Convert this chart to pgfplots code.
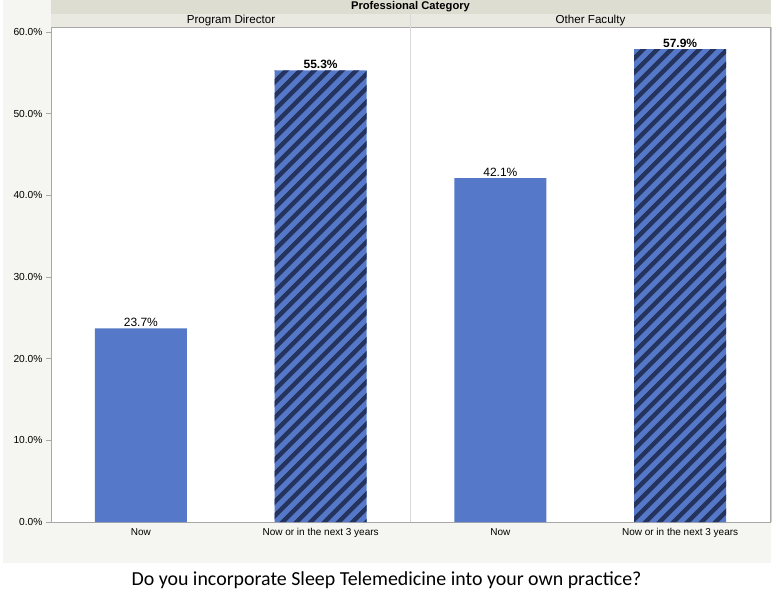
\documentclass[border=0pt]{standalone}
\usepackage{pgfplots}
\pgfplotsset{compat=1.18}
\usetikzlibrary{patterns.meta}
\usepackage{fontspec}
\setmainfont{Liberation Sans}
\newfontfamily\carlito{Carlito}
\definecolor{bgGray}{HTML}{F5F5F1}
\definecolor{bandA}{HTML}{DDDDD1}
\definecolor{bandB}{HTML}{E9E9E1}
\definecolor{barBlue}{HTML}{5678C8}
\definecolor{barNavy}{HTML}{25345F}
\definecolor{axGray}{HTML}{A8A8A8}
\begin{document}
\begin{tikzpicture}
\useasboundingbox (0,0) rectangle (773pt,598pt);
\fill[white] (0,0) rectangle (773pt,598pt);
\fill[bgGray] (3pt,35pt) rectangle (771pt,598pt);
\fill[bandA] (51pt,584pt) rectangle (771pt,598pt);
\fill[bandB] (51pt,571pt) rectangle (771pt,584pt);
\node[font=\fontsize{11.2}{12}\selectfont\bfseries] at (410.5pt,591pt) {Professional Category};
\node[font=\fontsize{11.6}{12}\selectfont] at (231pt,577.5pt) {Program Director};
\node[font=\fontsize{11.6}{12}\selectfont] at (590.5pt,577.5pt) {Other Faculty};
\begin{axis}[
  at={(51pt,76pt)}, anchor=south west,
  scale only axis, width=719pt, height=495pt,
  xmin=-0.5, xmax=3.5, ymin=0, ymax=60.6,
  axis background/.style={fill=white},
  ybar, bar width=92pt, bar shift=0pt,
  xtick={0,1,2,3},
  xticklabels={Now,Now or in the next 3 years,Now,Now or in the next 3 years},
  major x tick style={draw=none},
  ytick={0,10,20,30,40,50,60},
  yticklabel={\pgfmathprintnumber[fixed,fixed zerofill,precision=1]{\tick}\%},
  /pgf/number format/assume math mode=true,
  tick label style={font=\fontsize{10.2}{11}\selectfont},
  xticklabel style={font=\fontsize{10}{11}\selectfont, yshift=2pt},
  ytick pos=left, tick align=outside, major tick length=5pt,
  major y tick style={draw=axGray, thin},
  axis line style={draw=axGray},
  nodes near coords={\pgfmathprintnumber[fixed,fixed zerofill,precision=1]{\pgfplotspointmeta}\%},
  nodes near coords style={font=\fontsize{12}{13}\selectfont, inner sep=1.5pt},
  clip=false,
]
\addplot[fill=barBlue, draw=none] coordinates {(0,23.7) (2,42.1)};
\addplot[fill=barBlue, draw=none,
  postaction={pattern={Lines[angle=45,distance=10.5pt,line width=5pt]}, pattern color=barNavy},
  nodes near coords style={font=\fontsize{12}{13}\selectfont\bfseries}] coordinates {(1,55.3) (3,57.9)};
\end{axis}
\draw[gray!30] (410.5pt,76pt) -- (410.5pt,584pt);
\draw[gray!40] (771pt,76pt) -- (771pt,571pt);
\node[font=\carlito\fontsize{19.9}{23}\selectfont] at (386.5pt,18pt) {Do you incorporate Sleep Telemedicine into your own practice?};
\end{tikzpicture}
\end{document}
